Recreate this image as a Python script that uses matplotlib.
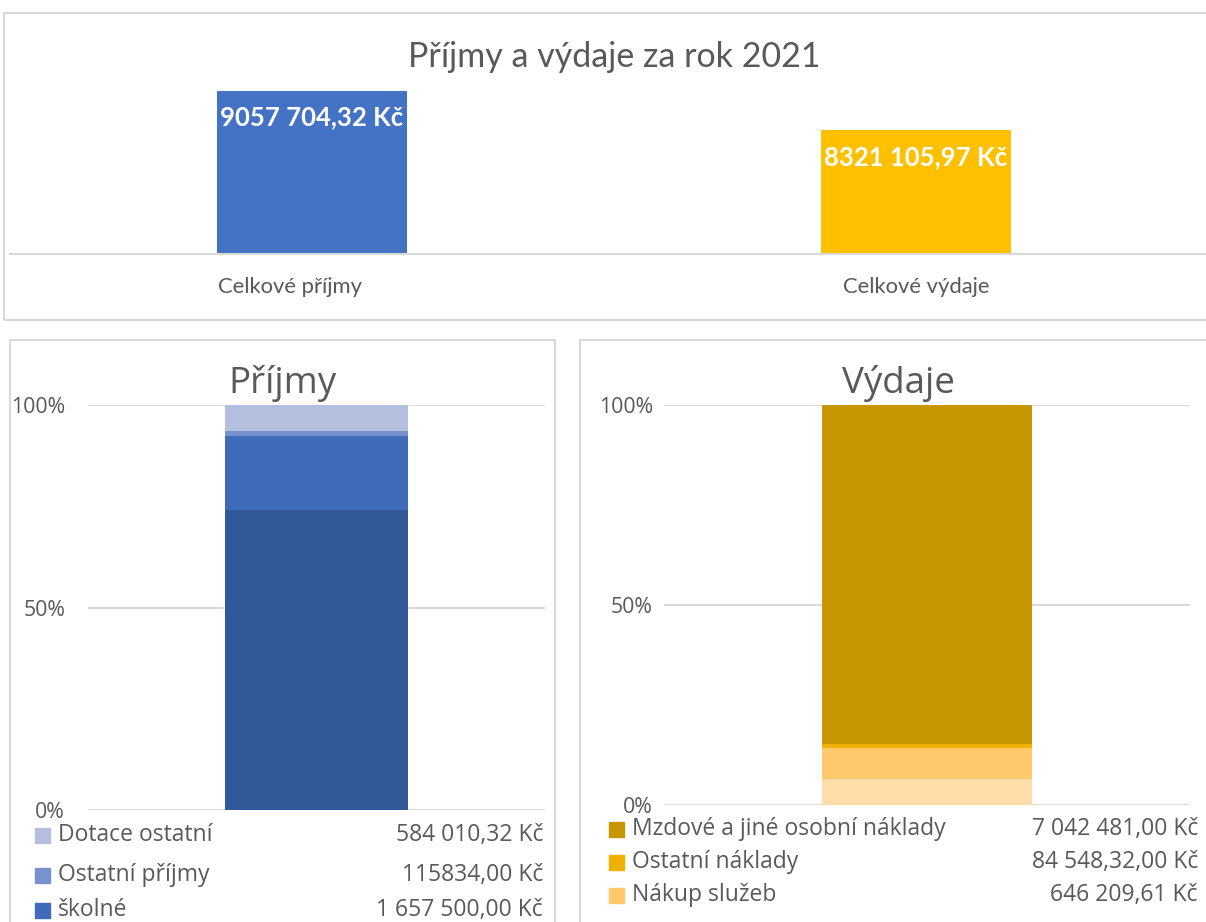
import numpy as np
import matplotlib
matplotlib.use("Agg")
import matplotlib.pyplot as plt
from matplotlib.patches import Rectangle

# --- data ---------------------------------------------------------------
celkem_kategorie = ["Celkové příjmy", "Celkové výdaje"]
celkem_hodnoty = [9057704.32, 8321105.97]
celkem_popisky = ["9057 704,32 Kč", "8321 105,97 Kč"]

# Příjmy, odspodu nahoru (spodní řada je v legendě mimo výřez)
prijmy_hodnoty = [6700360.00, 1657500.00, 115834.00, 584010.32]
prijmy_legenda = ["školné", "Ostatní příjmy", "Dotace ostatní"]
prijmy_legenda_hodnoty = ["1 657 500,00 Kč", "115834,00 Kč", "584 010,32 Kč"]

# Výdaje, odspodu nahoru
vydaje_hodnoty = [547867.04, 646209.61, 84548.32, 7042481.00]
vydaje_legenda = ["Nákup služeb", "Ostatní náklady", "Mzdové a jiné osobní náklady"]
vydaje_legenda_hodnoty = ["646 209,61 Kč", "84 548,32,00 Kč", "7 042 481,00 Kč"]

barvy_celkem = ["#4472C4", "#FFC000"]
barvy_prijmy = ["#325A9A", "#3F6BB8", "#7891CF", "#B4BFE0"]
barvy_vydaje = ["#FFDDAA", "#FFC86A", "#F0B200", "#C89600"]

W, H = 1206, 922
TXT = "#595959"
GRID = "#D9D9D9"
F_TOP = ["Lato", "DejaVu Sans"]
F_BOT = ["Open Sans", "DejaVu Sans"]

fig = plt.figure(figsize=(W / 100, H / 100), dpi=100)
fig.patch.set_facecolor("white")


def px_axes(x0, y0, x1, y1):
    return fig.add_axes([x0 / W, 1 - y1 / H, (x1 - x0) / W, (y1 - y0) / H])


def ramecek(x0, y0, x1, y1):
    fig.patches.append(Rectangle((x0 / W, 1 - y1 / H), (x1 - x0) / W, (y1 - y0) / H,
                                 transform=fig.transFigure, fill=False,
                                 edgecolor=GRID, linewidth=1.5))


# rámečky grafů
ramecek(4, 13, 1230, 320)
ramecek(10, 340, 555, 960)
ramecek(580, 340, 1230, 960)

# --- horní graf ---------------------------------------------------------
ax = px_axes(10, 67, 1218, 254)
x = np.arange(len(celkem_kategorie))
bars = ax.bar(x, celkem_hodnoty, width=0.315, color=barvy_celkem)
ax.set_xlim(-0.5, 1.5)
ax.set_ylim(6000000, 9500000)
for b, lab in zip(bars, celkem_popisky):
    ax.annotate(lab, (b.get_x() + b.get_width() / 2, b.get_height()),
                xytext=(0, -27), textcoords="offset pixels", ha="center", va="center",
                color="white", fontsize=18.5, fontweight="bold", family=F_TOP)
ax.set_yticks([])
ax.set_xticks([])
for s in ["top", "left", "right"]:
    ax.spines[s].set_visible(False)
ax.spines["bottom"].set_color(GRID)
ax.spines["bottom"].set_linewidth(1.5)

# popisky kategorií (v originále mírně posunuté)
for k, px in zip(celkem_kategorie, [290, 916]):
    fig.text(px / W, 1 - 287 / H, k, ha="center", va="center",
             fontsize=15.8, color=TXT, family=F_TOP)
fig.text(614 / W, 1 - 57 / H, "Příjmy a výdaje za rok 2021", ha="center", va="center",
         fontsize=24.5, color=TXT, family=F_TOP)


# --- spodní grafy -------------------------------------------------------
def procentni_graf(osa, hodnoty, barvy, titulek, tx, pad):
    podily = np.array(hodnoty) / np.sum(hodnoty)
    spodek = 0.0
    for p, c in zip(podily, barvy):
        osa.bar(0, p, bottom=spodek, width=0.4, color=c, zorder=3)
        spodek += p
    osa.set_xlim(-0.5, 0.5)
    osa.set_ylim(0, 1)
    osa.set_yticks([0, 0.5, 1])
    osa.set_yticklabels(["0%", "50%", "100%"], fontsize=15.3, color=TXT, family=F_BOT)
    osa.tick_params(axis="y", length=0, pad=pad)
    osa.set_xticks([])
    osa.grid(axis="y", color=GRID, linewidth=1.5, zorder=0)
    for s in osa.spines.values():
        s.set_visible(False)
    fig.text(tx / W, 1 - 383 / H, titulek, ha="center", va="center",
             fontsize=26.5, color=TXT, family=F_BOT)


def legenda(nazvy, texty, barvy, mx, lx, vx, radky):
    for n, t, c, y in zip(nazvy, texty, barvy, radky):
        fig.patches.append(Rectangle((mx / W, 1 - (y + 7.5) / H), 15 / W, 15 / H,
                                     transform=fig.transFigure, color=c))
        fig.text(lx / W, 1 - y / H, n, ha="left", va="center", fontsize=16.5,
                 color=TXT, family=F_BOT)
        fig.text(vx / W, 1 - y / H, t, ha="right", va="center", fontsize=16.5,
                 color=TXT, family=F_BOT)


ax1 = px_axes(88, 405, 545, 810)
procentni_graf(ax1, prijmy_hodnoty, barvy_prijmy, "Příjmy", 282, 16.5)
legenda(prijmy_legenda[::-1], prijmy_legenda_hodnoty[::-1], barvy_prijmy[1:][::-1],
        35, 58, 543, [835, 875, 910])

ax2 = px_axes(664, 405, 1190, 805)
procentni_graf(ax2, vydaje_hodnoty, barvy_vydaje, "Výdaje", 898, 8)
legenda(vydaje_legenda[::-1], vydaje_legenda_hodnoty[::-1], barvy_vydaje[1:][::-1],
        609, 632, 1198, [829, 862, 895])

fig.savefig("out.png", dpi=100, facecolor="white")
